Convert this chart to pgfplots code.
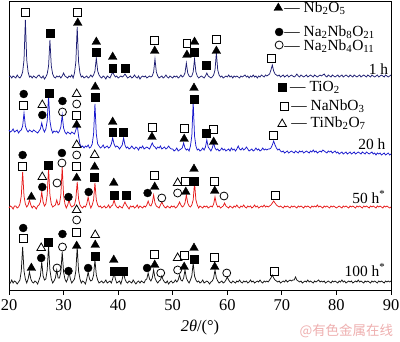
\documentclass[border=0pt]{standalone}
\usepackage{pgfplots}
\pgfplotsset{compat=1.18}
\usepackage{pgfplotstable}
\usepackage{fontspec}
\setmainfont{Liberation Serif}
\newfontfamily\cjk{Noto Sans CJK SC}
\definecolor{cA}{RGB}{30,30,115}
\definecolor{cB}{RGB}{25,25,205}
\definecolor{cC}{RGB}{230,25,25}
\definecolor{cD}{RGB}{20,20,20}
\definecolor{wm}{RGB}{238,175,175}
\newcommand\lf{\fontsize{15.5}{18}\selectfont}

\pgfplotstableread{
x a b c d
20 0 20 -1 0
20.25 1 18 1 -1
20.5 -1 19 0 2
20.75 1 21 -2 -1
21 0 18 1 1
21.25 -1 19 1 0
21.5 2 20 -1 -2
21.75 0 17 0 0
22 -1 19 3 2
22.25 1 20 11 11
22.5 5 24 35 35
22.75 17 37 11 11
23 57 24 3 3
23.25 17 20 0 -1
23.5 5 18 2 3
23.75 0 20 7 10
24 1 19 2 3
24.25 -1 18 -1 0
24.5 1 20 1 -1
24.75 0 19 0 1
25 -1 18 -2 0
25.25 1 17 1 -2
25.5 2 19 2 2
25.75 0 21 5 6
26 -1 27 15 20
26.25 1 21 5 6
26.5 -2 18 1 2
26.75 0 21 3 3
27 3 29 12 12
27.25 11 54 39 36
27.5 37 29 12 12
27.75 11 21 3 3
28 3 17 0 -1
28.25 0 19 1 1
28.5 -1 18 2 4
28.75 1 19 7 12
29 0 17 2 4
29.25 1 19 3 4
29.5 -1 23 12 10
29.75 1 35 40 30
30 4 22 12 10
30.25 1 18 3 3
30.5 0 16 -1 0
30.75 -1 18 2 3
31 1 17 7 10
31.25 0 16 2 3
31.5 2 18 0 -1
31.75 -1 17 1 1
32 4 16 2 3
32.25 15 20 8 11
32.5 50 25 25 35
32.75 15 14 8 11
33 4 6 2 3
33.25 0 3 0 -1
33.5 1 4 -1 1
33.75 -1 2 1 0
34 0 4 0 -2
34.25 1 3 3 3
34.5 -1 5 10 10
34.75 0 2 3 3
35 2 3 -1 1
35.25 0 6 2 2
35.5 2 16 7 7
35.75 6 46 24 22
36 19 16 7 7
36.25 6 6 2 2
36.5 2 4 0 -1
36.75 0 2 1 0
37 -1 3 -1 1
37.25 1 5 0 -1
37.5 0 2 1 0
37.75 -2 3 -1 2
38 1 4 0 -1
38.25 0 2 2 0
38.5 -1 3 -1 1
38.75 2 6 1 -1
39 5 12 2 3
39.25 2 6 7 9
39.5 0 3 2 3
39.75 1 4 0 -1
40 -1 3 -1 0
40.25 0 1 1 1
40.5 1 3 0 -2
40.75 0 5 -1 3
41 1 12 2 9
41.25 3 5 5 3
41.5 1 2 2 0
41.75 -1 3 0 -1
42 0 1 -2 1
42.25 1 2 1 0
42.5 -1 4 0 -1
42.75 0 2 1 2
43 2 1 -1 0
43.25 0 3 0 -2
43.5 -1 2 2 0
43.75 1 0 -1 1
44 -2 3 1 -1
44.25 0 2 0 1
44.5 1 4 -1 0
44.75 0 1 1 -1
45 1 2 0 2
45.25 -1 3 2 3
45.5 0 2 6 9
45.75 1 1 2 3
46 0 4 1 1
46.25 1 7 4 4
46.5 5 4 12 12
46.75 18 3 4 4
47 5 1 1 1
47.25 1 3 0 -1
47.5 -1 2 -1 1
47.75 0 4 2 2
48 1 1 5 6
48.25 -1 2 2 2
48.5 0 3 0 0
48.75 2 1 -1 -1
49 0 2 1 1
49.25 -1 4 0 -2
49.5 1 2 -1 0
49.75 0 1 1 1
50 -1 1 0 -1
50.25 1 -1 1 0
50.5 0 0 -1 2
50.75 1 2 0 0
51 -1 -1 2 2
51.25 0 0 5 7
51.5 2 1 2 2
51.75 0 2 0 1
52 1 7 1 4
52.25 4 2 4 12
52.5 14 0 12 4
52.75 4 1 4 1
53 1 -1 1 -1
53.25 0 4 0 2
53.5 1 14 2 6
53.75 5 48 7 19
54 18 14 24 6
54.25 5 4 7 2
54.5 1 0 2 0
54.75 -1 1 -1 1
55 0 -1 1 -1
55.25 1 0 0 0
55.5 0 2 -1 2
55.75 -1 0 1 -1
56 1 3 0 0
56.25 4 10 1 1
56.5 1 3 -1 0
56.75 0 1 0 -2
57 -1 -1 1 0
57.25 0 2 0 1
57.5 2 7 3 4
57.75 7 2 10 12
58 24 0 3 4
58.25 7 1 0 1
58.5 2 -1 1 -1
58.75 0 0 -1 0
59 1 2 0 1
59.25 -1 0 1 -1
59.5 0 1 4 0
59.75 1 -1 1 2
60 0 0 0 5
60.25 2 1 -1 2
60.5 0 -1 1 0
60.75 1 2 0 -1
61 -1 0 -1 1
61.25 1 1 1 0
61.5 0 -1 0 -1
61.75 1 1 2 1
62 0 4 0 0
62.25 -1 1 -1 2
62.5 1 0 1 0
62.75 0 2 0 -1
63 1 0 2 1
63.25 2 1 0 0
63.5 0 3 -1 1
63.75 1 1 1 -1
64 -1 -1 0 0
64.25 1 0 1 2
64.5 0 1 -1 0
64.75 2 -1 0 1
65 0 0 2 -1
65.25 1 2 0 0
65.5 -1 0 1 1
65.75 1 1 -1 0
66 0 -1 0 2
66.25 2 0 1 0
66.5 1 2 0 -1
66.75 0 0 2 1
67 2 1 0 0
67.25 1 0 1 1
67.5 2 1 0 0
67.75 3 1 1 2
68 7 2 2 4
68.25 12 5 4 7
68.5 6 9 6 4
68.75 3 5 4 2
69 2 2 2 1
69.25 1 0 1 0
69.5 2 1 0 1
69.75 0 -1 1 -1
70 1 -2 0 0
70.25 2 -1 -1 1
70.5 0 -3 1 0
70.75 1 -2 0 2
71 2 -1 1 0
71.25 0 -3 0 1
71.5 1 -2 -1 2
71.75 2 -1 1 1
72 1 -2 0 2
72.25 0 -3 1 2
72.5 1 -1 0 5
72.75 3 -2 -1 2
73 1 -3 1 1
73.25 0 -1 0 0
73.5 2 -2 1 1
73.75 1 -1 0 -1
74 0 -3 -1 0
74.25 1 -2 1 1
74.5 2 -1 0 0
74.75 0 -2 1 2
75 1 -3 0 0
75.25 2 -1 -1 1
75.5 1 -2 1 0
75.75 0 0 0 -1
76 2 -2 1 1
76.25 1 -1 0 0
76.5 0 -3 2 1
76.75 1 -2 0 2
77 2 -1 1 0
77.25 1 -2 0 1
77.5 2 0 -1 0
77.75 3 -1 1 1
78 1 -2 0 -1
78.25 0 -3 1 0
78.5 2 -1 0 1
78.75 1 -2 -1 0
79 0 -1 1 -1
79.25 2 -3 0 1
79.5 1 -2 1 0
79.75 0 -1 0 1
80 1 -3 -1 0
80.25 2 -2 0 -1
80.5 0 -4 1 1
80.75 1 -3 0 0
81 2 -2 -1 2
81.25 0 -4 1 0
81.5 1 -3 0 1
81.75 2 -2 1 -1
82 1 -4 0 0
82.25 0 -3 -1 1
82.5 2 -2 1 0
82.75 1 -4 0 1
83 0 -3 1 -1
83.25 2 -2 0 0
83.5 1 -4 -1 1
83.75 0 -3 1 0
84 1 -2 0 2
84.25 2 -3 1 0
84.5 0 -4 0 1
84.75 1 -2 -1 0
85 2 -3 1 -1
85.25 1 -4 0 1
85.5 0 -2 1 0
85.75 2 -3 0 1
86 1 -4 -1 0
86.25 0 -3 1 -1
86.5 2 -2 0 1
86.75 1 -4 1 0
87 0 -3 0 1
87.25 1 -5 -1 0
87.5 2 -3 1 -1
87.75 0 -4 0 1
88 1 -3 1 0
88.25 2 -5 0 1
88.5 1 -4 -1 0
88.75 0 -3 1 -1
89 2 -5 0 1
89.25 1 -4 1 0
89.5 0 -3 0 1
89.75 1 -5 -1 0
90 2 -4 0 1
}\xrd

\begin{document}
\begin{tikzpicture}
\begin{axis}[
  name=ax,
  scale only axis,
  width=382bp, height=289bp,
  xmin=20, xmax=90, ymin=0, ymax=289,
  clip=false,
  axis line style={line width=0.8pt},
  xtick={20,30,...,90},
  ytick=\empty,
  xtick pos=bottom,
  tick align=outside,
  major tick length=5pt,
  tick style={line width=0.8pt, black},
  /pgf/number format/assume math mode=true,
  xticklabel style={font=\fontsize{16.5}{18}\selectfont, yshift=-1pt},
  xlabel={\textit{2θ}/(°)},
  xlabel style={font=\fontsize{16.5}{18}\selectfont, at={(axis description cs:0.5,-0.131)}, anchor=center},
]
\addplot[cA, line width=0.75pt] table[x=x, y expr=\thisrow{a}+213] {\xrd};
\addplot[cB, line width=0.75pt] table[x=x, y expr=\thisrow{b}+140] {\xrd};
\addplot[cC, line width=0.75pt] table[x=x, y expr=\thisrow{c}+83] {\xrd};
\addplot[cD, line width=0.75pt] table[x=x, y expr=\thisrow{d}+8] {\xrd};

% filled triangles: Nb2O5
\addplot[only marks, mark=triangle*, mark size=5pt, black, mark options={fill=black}] coordinates {
(32.6,267) (36.0,248) (39.0,233) (46.7,239) (52.6,235) (54.0,248) (58.0,239)
(32.4,165) (35.8,203) (39.0,168) (46.2,153) (52.1,151) (53.9,202) (57.5,148)
(24.1,93) (32.4,112) (35.7,123) (39.2,107) (46.7,103) (52.4,98) (53.9,121) (57.7,99)
(24.1,22) (32.4,44) (35.8,45) (39.2,30) (46.7,25) (52.1,23) (53.9,42) (57.7,23)
(69.35,282)};
% filled squares: TiO2
\addplot[only marks, mark=square*, mark size=4pt, black, mark options={fill=black}] coordinates {
(27.5,257) (36.0,238) (39.0,222) (41.3,222) (54.0,238) (56.2,225)
(27.3,197) (35.8,193) (39.0,158) (41.0,158) (53.9,191) (56.1,157)
(27.2,125) (35.7,113) (39.2,95) (41.4,95) (53.9,109)
(27.2,48) (35.8,34) (39.2,19) (41.0,19) (53.9,31)
(70.06,203)};
% open squares: NaNbO3
\addplot[only marks, mark=square, mark size=4pt, black, mark options={line width=0.8pt, fill=white}] coordinates {
(23.0,278) (32.6,278) (46.7,250) (52.6,247) (58.0,251) (68.0,232)
(22.7,185) (32.4,175) (46.2,163) (52.1,162) (57.5,161) (68.4,155)
(22.5,124) (32.4,124) (46.7,115) (52.4,109) (57.7,109) (68.8,95)
(22.6,52) (32.4,58) (46.7,36) (52.1,35) (57.7,33) (68.6,19)
(70.42,184)};
% filled circles: Na2Nb8O21
\addplot[only marks, mark=*, mark size=4pt, black, mark options={fill=black}] coordinates {
(22.7,196) (26.1,175) (29.8,189)
(22.5,135) (26.1,103) (29.7,137) (30.9,93) (34.6,98) (45.4,97)
(22.6,62) (25.9,32) (29.8,56) (30.9,19) (34.5,22) (45.3,22)
(69.5,258)};
% open circles: Na2Nb4O11
\addplot[only marks, mark=o, mark size=4pt, black, mark options={line width=0.8pt, fill=white}] coordinates {
(29.8,178) (32.4,186)
(28.8,107) (29.7,127) (32.4,135) (48.0,92) (50.9,97) (59.4,94)
(28.8,22) (29.8,43) (32.4,70) (47.8,17) (50.9,20) (59.9,17)
(69.5,245)};
% open triangles: TiNb2O7
\addplot[only marks, mark=triangle, mark size=5pt, black, mark options={line width=0.8pt, fill=white}] coordinates {
(26.1,185) (32.4,196)
(26.1,113) (32.4,145) (35.7,135) (50.9,107)
(25.9,42) (32.4,80) (35.8,55) (50.9,32)
(70.06,166)};

% legend texts
\node[anchor=west, inner sep=0pt, font=\lf] at (axis cs:70.42,282) {— Nb\textsubscript{2}O\textsubscript{5}};
\node[anchor=west, inner sep=0pt, font=\lf] at (axis cs:70.42,258) {— Na\textsubscript{2}Nb\textsubscript{8}O\textsubscript{21}};
\node[anchor=west, inner sep=0pt, font=\lf] at (axis cs:70.42,244) {— Na\textsubscript{2}Nb\textsubscript{4}O\textsubscript{11}};
\node[anchor=west, inner sep=0pt, font=\lf] at (axis cs:71.5,203) {— TiO\textsubscript{2}};
\node[anchor=west, inner sep=0pt, font=\lf] at (axis cs:71.7,184) {— NaNbO\textsubscript{3}};
\node[anchor=west, inner sep=0pt, font=\lf] at (axis cs:71.7,167) {— TiNb\textsubscript{2}O\textsubscript{7}};

% curve labels
\node[anchor=east, inner sep=0pt, font=\lf] at (axis cs:89.5,221) {1 h};
\node[anchor=east, inner sep=0pt, font=\lf] at (axis cs:89.0,146) {20 h};
\node[anchor=east, inner sep=0pt, font=\lf] at (axis cs:89.0,93) {50 h\textsuperscript{*}};
\node[anchor=east, inner sep=0pt, font=\lf] at (axis cs:89.0,20) {100 h\textsuperscript{*}};

% watermark
\node[anchor=center, inner sep=0pt, text=wm, font=\cjk\fontsize{13.5}{15}\selectfont] at (axis cs:81.8,-41) {@有色金属在线};
\end{axis}
\pgfresetboundingbox
\path[use as bounding box] ([xshift=-9bp,yshift=-52bp]ax.south west) rectangle ([xshift=9bp,yshift=1bp]ax.north east);
\end{tikzpicture}
\end{document}
